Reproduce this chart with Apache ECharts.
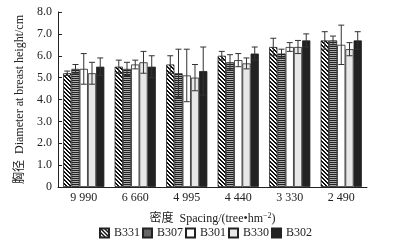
<!DOCTYPE html>
<html>
<head>
<meta charset="utf-8">
<script src="https://cdn.jsdelivr.net/npm/echarts@6/dist/echarts.min.js"></script>
<style>
  html, body { margin: 0; padding: 0; background: #fff; }
  #chart { width: 411px; height: 246px; }
</style>
</head>
<body>
<div id="chart"></div>
<script>
const categories = ["9 990", "6 660", "4 995", "4 440", "3 330", "2 490"];
const seriesNames = ["B331", "B307", "B301", "B330", "B302"];

// mean diameter per density
const b331 = [5.2, 5.5, 5.6, 6.0, 6.4, 6.7];
const b307 = [5.4, 5.4, 5.2, 5.7, 6.1, 6.7];
const b301 = [5.4, 5.6, 5.1, 5.8, 6.4, 6.5];
const b330 = [5.2, 5.7, 5.0, 5.65, 6.4, 6.3];
const b302 = [5.5, 5.5, 5.3, 6.1, 6.7, 6.7];

// error (±)
const e331 = [0.1, 0.3, 0.4, 0.2, 0.4, 0.4];
const e307 = [0.2, 0.3, 1.1, 0.35, 0.2, 0.2];
const e301 = [0.7, 0.2, 1.2, 0.3, 0.2, 0.9];
const e330 = [0.5, 0.5, 0.6, 0.25, 0.3, 0.3];
const e302 = [0.4, 0.5, 1.1, 0.3, 0.3, 0.4];

const yTicks = [0, 1, 2, 3, 4, 5, 6, 7, 8];

const values = [b331, b307, b301, b330, b302];
const errors = [e331, e307, e301, e330, e302];

function makePattern(type) {
  const c = document.createElement("canvas");
  const ctx = c.getContext("2d");
  if (type === "diag") {
    c.width = 4; c.height = 4;
    ctx.fillStyle = "#fff";
    ctx.fillRect(0, 0, 4, 4);
    ctx.fillStyle = "#111";
    for (let y = 0; y < 4; y++) {
      for (let x = 0; x < 4; x++) {
        const d = ((x - y) % 4 + 4) % 4;
        if (d === 0 || d === 1) ctx.fillRect(x, y, 1, 1);
      }
    }
  } else {
    c.width = 2; c.height = 2;
    ctx.fillStyle = "#aaa";
    ctx.fillRect(0, 0, 2, 2);
    ctx.fillStyle = "#222";
    ctx.fillRect(0, 0, 2, 1);
  }
  return { image: c, repeat: "repeat" };
}

const fills = [makePattern("diag"), makePattern("horiz"), "#ffffff", "#e8e8e8", "#222222"];
const font = "Liberation Serif, Noto Sans CJK SC, serif";

const chart = echarts.init(document.getElementById("chart"));

const barSeries = seriesNames.map((name, i) => ({
  name: name,
  type: "bar",
  data: values[i],
  barGap: "0%",
  barCategoryGap: "20%",
  itemStyle: {
    color: fills[i],
    borderColor: "#222",
    borderWidth: 0.8,
  },
}));

const errData = [];
values.forEach((arr, k) => {
  arr.forEach((v, j) => {
    errData.push([j, v, errors[k][j], k]);
  });
});

chart.setOption({
  backgroundColor: "#fff",
  animation: false,
  grid: {
    left: 58,
    right: 44,
    top: 12,
    bottom: 59,
  },
  legend: {
    data: seriesNames,
    bottom: 2,
    left: "center",
    icon: "rect",
    itemWidth: 9,
    itemHeight: 9,
    itemGap: 2,
    textStyle: { fontFamily: font, fontSize: 12, color: "#222" },
  },
  xAxis: {
    type: "category",
    data: categories,
    name: "密度  Spacing/(tree•hm{sup|−2})",
    nameLocation: "middle",
    nameGap: 25,
    nameTextStyle: {
      fontFamily: font,
      fontSize: 12,
      color: "#222",
      rich: {
        sup: { fontFamily: font, fontSize: 8, verticalAlign: "top", padding: [0, 0, 6, 0] },
      },
    },
    axisLine: { lineStyle: { color: "#222", width: 1 } },
    axisTick: { inside: true, length: 4, lineStyle: { color: "#222" } },
    axisLabel: { fontFamily: font, fontSize: 12, color: "#222", margin: 5 },
  },
  yAxis: {
    type: "value",
    min: 0,
    max: yTicks[yTicks.length - 1],
    interval: 1,
    name: "胸径  Diameter at breast height/cm",
    nameLocation: "middle",
    nameGap: 27,
    nameTextStyle: { fontFamily: font, fontSize: 12, color: "#222" },
    axisLine: { show: true, lineStyle: { color: "#222", width: 1 } },
    axisTick: { show: true, inside: true, length: 4, lineStyle: { color: "#222" } },
    splitLine: { show: false },
    axisLabel: {
      fontFamily: font,
      fontSize: 12,
      color: "#222",
      margin: 6,
      formatter: (v) => (v === 0 ? "0" : v.toFixed(1)),
    },
  },
  series: barSeries.concat([
    {
      name: "err",
      type: "custom",
      z: 10,
      data: errData,
      encode: { x: 0, y: 1 },
      renderItem: function (params, api) {
        const cat = api.value(0);
        const v = api.value(1);
        const e = api.value(2);
        const k = api.value(3);
        const bw = (api.size([1, 0])[0] * 0.8) / 5;
        const x = api.coord([cat, v])[0] + (k - 2) * bw;
        const top = api.coord([cat, v + e])[1];
        const bot = api.coord([cat, v - e])[1];
        const cap = 3;
        const style = { stroke: "#333", lineWidth: 1 };
        return {
          type: "group",
          children: [
            { type: "line", shape: { x1: x, y1: top, x2: x, y2: bot }, style: style },
            { type: "line", shape: { x1: x - cap, y1: top, x2: x + cap, y2: top }, style: style },
            { type: "line", shape: { x1: x - cap, y1: bot, x2: x + cap, y2: bot }, style: style },
          ],
        };
      },
    },
  ]),
});
</script>
</body>
</html>
